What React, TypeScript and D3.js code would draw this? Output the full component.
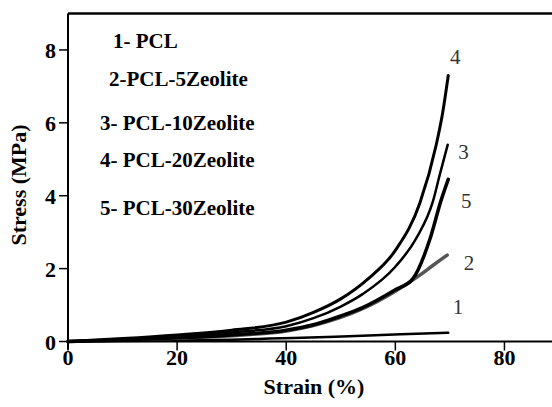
import React from "react";
import * as d3 from "d3";

const xTicks = [0, 20, 40, 60, 80];
const yTicks = [0, 2, 4, 6, 8];

const pcl = [[0, 0], [20, 0.03], [30, 0.05], [37, 0.08], [49, 0.13], [61, 0.2], [69.7, 0.24]];
const pcl5 = [[0, 0], [20, 0.09], [30, 0.16], [40, 0.29], [45, 0.44], [50, 0.66], [54, 0.9], [60, 1.38], [64.5, 1.82], [67, 2.1], [69.5, 2.37]];
const pcl10 = [[0, 0], [20, 0.14], [30, 0.25], [40, 0.42], [45, 0.64], [50, 0.96], [54, 1.3], [60, 2.05], [63.9, 2.85], [66.9, 3.85], [68.1, 4.55], [69.6, 5.4]];
const pcl20 = [[0, 0], [10, 0.08], [20, 0.18], [30, 0.31], [40, 0.53], [45, 0.8], [50, 1.17], [55, 1.72], [60, 2.5], [64.5, 3.8], [67.5, 5.4], [68.7, 6.3], [69.7, 7.3]];
const pcl30 = [[0, 0], [20, 0.1], [30, 0.18], [40, 0.31], [45, 0.46], [50, 0.7], [54, 0.93], [60, 1.42], [63.2, 1.72], [66.3, 2.79], [68.4, 3.88], [69.7, 4.45]];

const legendLabels = ["1- PCL", "2-PCL-5Zeolite", "3- PCL-10Zeolite", "4- PCL-20Zeolite", "5- PCL-30Zeolite"];
const curveLabels = ["1", "2", "3", "4", "5"];

const W = 552, H = 407;
const x = d3.scaleLinear().domain([0, 90]).range([68, 559]);
const y = d3.scaleLinear().domain([0, 9]).range([341.5, 13.5]);

const series = [
  { data: pcl, color: "#000", width: 2.5, label: [71.5, 0.95] },
  { data: pcl5, color: "#555", width: 3.5, label: [73.5, 2.15] },
  { data: pcl10, color: "#000", width: 2.5, label: [72.5, 5.2] },
  { data: pcl20, color: "#000", width: 3, label: [71, 7.8] },
  { data: pcl30, color: "#000", width: 3.5, label: [73, 3.85] },
];

const line = d3.line<number[]>().x(d => x(d[0])).y(d => y(d[1])).curve(d3.curveMonotoneX);

const legendPos = [[113, 47.5], [109, 85.5], [100, 129.5], [100, 166.5], [100, 214.5]];

export default function App() {
  const serif = "Liberation Serif, Times New Roman, serif";
  return (
    <svg width={W} height={H} style={{ position: "absolute", left: 0, top: 0, background: "#fff" }}>
      <rect width={W} height={H} fill="#fff" />
      {series.map((s, i) => (
        <path key={i} d={line(s.data as any) || ""} fill="none" stroke={s.color} strokeWidth={s.width} strokeLinecap="round" />
      ))}
      <line x1={x(0)} x2={W} y1={y(0)} y2={y(0)} stroke="#000" strokeWidth={2} />
      <line x1={x(0)} x2={x(0)} y1={y(9)} y2={y(0) + 8} stroke="#000" strokeWidth={2} />
      <line x1={x(0)} x2={W} y1={y(9)} y2={y(9)} stroke="#000" strokeWidth={2.5} />
      {xTicks.map(t => (
        <g key={t}>
          <line x1={x(t)} x2={x(t)} y1={y(0)} y2={y(0) + 9} stroke="#000" strokeWidth={1.5} />
          <text x={x(t)} y={365} textAnchor="middle" fontFamily={serif} fontWeight="bold" fontSize={22}>{t}</text>
        </g>
      ))}
      {yTicks.map(t => (
        <g key={t}>
          <line x1={x(0) - 9} x2={x(0)} y1={y(t)} y2={y(t)} stroke="#000" strokeWidth={1.5} />
          <text x={56} y={y(t) + 8} textAnchor="end" fontFamily={serif} fontWeight="bold" fontSize={22}>{t}</text>
        </g>
      ))}
      <text x={314} y={394} textAnchor="middle" fontFamily={serif} fontWeight="bold" fontSize={22}>Strain (%)</text>
      <text transform={`translate(26,${185}) rotate(-90)`} textAnchor="middle" fontFamily={serif} fontWeight="bold" fontSize={22}>Stress (MPa)</text>
      {legendLabels.map((l, i) => (
        <text key={l} x={legendPos[i][0]} y={legendPos[i][1]} fontFamily={serif} fontWeight="bold" fontSize={21}>{l}</text>
      ))}
      {series.map((s, i) => (
        <text key={"c" + i} x={x(s.label[0])} y={y(s.label[1])} textAnchor="middle" dominantBaseline="central" fontFamily={serif} fontSize={21} fill="#333">{curveLabels[i]}</text>
      ))}
    </svg>
  );
}
